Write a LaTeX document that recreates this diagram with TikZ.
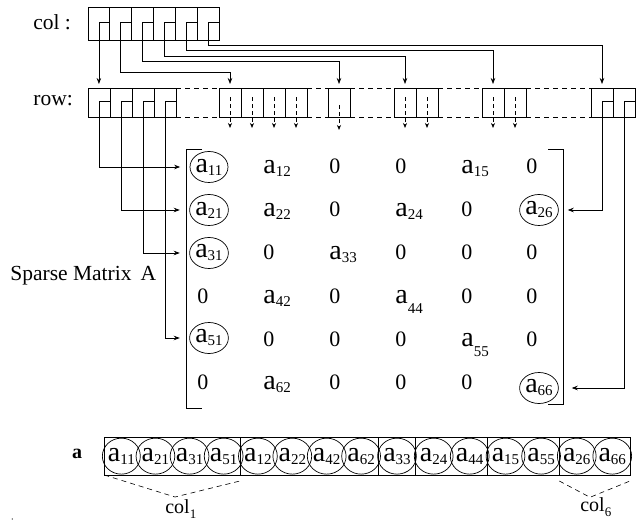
\documentclass[tikz,border=0pt]{standalone}
\usepackage{fontspec}
\setmainfont{Liberation Serif}
\usetikzlibrary{arrows.meta,shapes.geometric}
\newcommand\ea[1]{{\fontsize{28}{28}\selectfont a}\raisebox{-3pt}{\fontsize{15}{15}\selectfont #1}}
\newcommand\eb[1]{{\fontsize{28}{28}\selectfont a}\raisebox{-10pt}{\fontsize{15}{15}\selectfont #1}}
\newcommand\ez{{\fontsize{22}{22}\selectfont 0}}
\begin{document}
\begin{tikzpicture}[x=1pt,y=-1pt,line width=0.7pt,
  ccell/.style={draw,minimum width=21.83pt,minimum height=33pt,inner sep=0pt,outer sep=0pt},
  rcell/.style={draw,minimum width=22pt,minimum height=29pt,inner sep=0pt,outer sep=0pt},
  circ/.style={draw,ellipse,minimum width=35pt,minimum height=31pt,inner sep=0pt},
  ent/.style={anchor=base west,inner sep=0pt},
  lbl/.style={anchor=base west,inner sep=0pt,font=\fontsize{21.5}{21.5}\selectfont},
  arr/.style={-{Stealth[length=6pt,width=4.5pt]}},
  darr/.style={-{Stealth[length=5pt,width=4pt]},dash pattern=on 4pt off 3pt},
  gap/.style={dash pattern=on 5pt off 4pt},
  seg/.style={draw,minimum height=37.7pt,inner sep=0pt,outer sep=0pt},
  bcirc/.style={draw,ellipse,minimum height=36pt,inner sep=0pt}]
\useasboundingbox (0,0) rectangle (637,529);

% labels
\node[lbl] (lcol) at (33,29.3) {col :};
\node[lbl] (lrow) at (33,106) {row:};
\node[lbl] (lsp) at (10,280) {Sparse Matrix\hspace{9pt}A};

% col array
\foreach \i in {1,...,6}
  \node[ccell] (c\i) at ({88+21.83*(\i-0.5)},23.5) {};

% row array
\foreach \n/\x in {r11/99,r12/121,r13/143,r14/165,r21/230,r22/252,r23/274,r24/296,r31/339,r41/405,r42/427,r51/493,r52/515,r61/602,r62/624}
  \node[rcell] (\n) at (\x,102.5) {};
\foreach \a/\b in {r14/r21,r24/r31,r31/r41,r42/r51,r52/r61}{
  \draw[gap] (\a.north east) -- (\b.north west);
  \draw[gap] (\a.south east) -- (\b.south west);
}

% pointer helper coordinates
\coordinate (ct) at (0,22.7);
\coordinate (rt) at (0,101.7);
\coordinate (h2) at (0,72.7);
\coordinate (h3) at (0,61.7);
\coordinate (h4) at (0,56.7);
\coordinate (h5) at (0,50.7);
\coordinate (h6) at (0,45.7);

% col pointers
\draw[arr,shorten >=4pt] (c1.east |- ct) -- (c1.center |- ct) -- (c1.center |- r11.north);
\foreach \k/\t in {2/r21,3/r31,4/r41,5/r51,6/r61}
  \draw[arr,shorten >=4pt] (c\k.east |- ct) -- (c\k.center |- ct) -- (c\k.center |- h\k) -| (\t.north);

% dashed pointers inside row blocks
\foreach \n in {r21,r22,r23,r24,r41,r42,r51,r52}{
  \coordinate (\n e) at ([yshift=-25.5pt]\n.center);
  \draw[darr] ([yshift=5pt]\n.center) -- (\n e);
}
\coordinate (r31e) at ([yshift=-27.5pt]r31.center);
\draw[darr] ([yshift=-2.5pt]r31.center) -- (r31e);

% matrix
\node[circ] (a11) at (209,167) {\ea{11}};
\node[circ] (a21) at (209,210) {\ea{21}};
\node[circ] (a31) at (209,253) {\ea{31}};
\node[circ] (a51) at (209,338) {\ea{51}};
\node[circ] (a26) at (539,210) {\ea{26}};
\node[circ] (a66) at (539,388) {\ea{66}};

\node[ent] (m12) at (263,174) {\ea{12}};
\node[ent] (m13) at (329,174) {\ez};
\node[ent] (m14) at (395,174) {\ez};
\node[ent] (m15) at (461,174) {\ea{15}};
\node[ent] (m16) at (526,174) {\ez};

\node[ent] (m22) at (263,217) {\ea{22}};
\node[ent] (m23) at (329,217) {\ez};
\node[ent] (m24) at (395,217) {\ea{24}};
\node[ent] (m25) at (461,217) {\ez};

\node[ent] (m32) at (263,260) {\ez};
\node[ent] (m33) at (329,260) {\ea{33}};
\node[ent] (m34) at (395,260) {\ez};
\node[ent] (m35) at (461,260) {\ez};
\node[ent] (m36) at (526,260) {\ez};

\node[ent] (m41) at (197,303) {\ez};
\node[ent] (m42) at (263,303) {\ea{42}};
\node[ent] (m43) at (329,303) {\ez};
\node[ent] (m44) at (395,303) {\eb{44}};
\node[ent] (m45) at (461,303) {\ez};
\node[ent] (m46) at (526,303) {\ez};

\node[ent] (m52) at (263,346) {\ez};
\node[ent] (m53) at (329,346) {\ez};
\node[ent] (m54) at (395,346) {\ez};
\node[ent] (m55) at (461,346) {\eb{55}};
\node[ent] (m56) at (526,346) {\ez};

\node[ent] (m61) at (197,389) {\ez};
\node[ent] (m62) at (263,389) {\ea{62}};
\node[ent] (m63) at (329,389) {\ez};
\node[ent] (m64) at (395,389) {\ez};
\node[ent] (m65) at (461,389) {\ez};

% brackets
\coordinate (bl1) at (202,149); \coordinate (bl2) at (186,149);
\coordinate (bl3) at (186,408); \coordinate (bl4) at (202,408);
\draw (bl1) -- (bl2) -- (bl3) -- (bl4);
\coordinate (br1) at (548,149); \coordinate (br2) at (563.3,149);
\coordinate (br3) at (563.3,404); \coordinate (br4) at (548,404);
\draw (br1) -- (br2) -- (br3) -- (br4);

% row pointers to matrix
\draw[arr,shorten >=9.5pt] (r11.east |- rt) -- (r11.center |- rt) |- (a11.west);
\draw[arr,shorten >=9.5pt] (r12.east |- rt) -- (r12.center |- rt) |- (a21.west);
\draw[arr,shorten >=9.5pt] (r13.east |- rt) -- (r13.center |- rt) |- (a31.west);
\draw[arr,shorten >=9.5pt] (r14.east |- rt) -- (r14.center |- rt) |- (a51.west);
\draw[arr,shorten >=9pt] (r61.east |- rt) -- (r61.center |- rt) |- (a26.east);
\draw[arr,shorten >=13pt] (r62.east |- rt) -- (r62.center |- rt) |- (a66.east);

% value array a
\node[anchor=base west,inner sep=0pt,font=\bfseries\fontsize{20}{20}\selectfont] (la) at (71.7,458.3) {a};
\node[seg,minimum width=136.4pt] (s1) at (172.5,456.15) {};
\node[seg,minimum width=137.6pt] (s2) at (309.5,456.15) {};
\node[seg,minimum width=37.4pt] (s3) at (397,456.15) {};
\node[seg,minimum width=72pt] (s4) at (451.7,456.15) {};
\node[seg,minimum width=71.3pt] (s5) at (523.35,456.15) {};
\node[seg,minimum width=71pt] (s6) at (594.5,456.15) {};
\foreach \n/\x/\w in {11/121.35/34.1,21/155.45/34.1,31/189.55/34.1,51/223.65/34.1,
  12/257.9/34.4,22/292.3/34.4,42/326.7/34.4,62/361.1/34.4,
  33/397/36.5,24/433.7/36,44/469.7/36,15/505.5/35.6,55/541.1/35.6,26/576.75/35.5,66/612.25/35.5}
  \node[bcirc,minimum width=\w pt] (v\n) at (\x,456.15) {\ea{\n}};

% column braces
\coordinate (k1) at (175,497); \coordinate (k1r) at (240,481);
\draw[gap,line width=0.6pt] (s1.south west) -- (k1) -- (k1r);
\coordinate (k6l) at (559.3,481); \coordinate (k6) at (590,497.3); \coordinate (k6r) at (630,481);
\draw[gap,line width=0.6pt] (k6l) -- (k6) -- (k6r);
\node[anchor=base west,inner sep=0pt,font=\fontsize{20}{20}\selectfont] (lc1) at (165,513) {col\raisebox{-5pt}{\fontsize{13}{13}\selectfont 1}};
\node[anchor=base west,inner sep=0pt,font=\fontsize{20}{20}\selectfont] (lc6) at (580,511.7) {col\raisebox{-5pt}{\fontsize{13}{13}\selectfont 6}};

\fill (12.3,519) circle (0.6pt);
\end{tikzpicture}
\end{document}
